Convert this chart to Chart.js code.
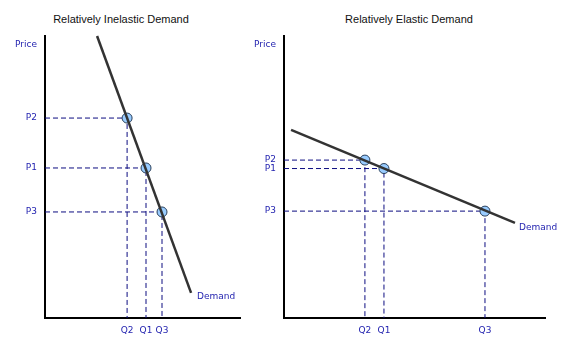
<!DOCTYPE html>
<html>
<head>
<meta charset="utf-8">
<script src="https://cdn.jsdelivr.net/npm/chart.js@4.4.1/dist/chart.umd.min.js"></script>
<style>
  body { margin: 0; background: #fff; }
  #wrap { position: relative; width: 588px; height: 350px; overflow: hidden; }
  canvas { position: absolute; top: 0; }
  .title { position: absolute; top: 12px; font: 11px "Liberation Sans", Arial, sans-serif; color: #111;
           width: 240px; text-align: center; line-height: 14px; }
</style>
</head>
<body>
<div id="wrap">
  <div class="title" style="left:1px">Relatively Inelastic Demand</div>
  <div class="title" style="left:289px">Relatively Elastic Demand</div>
  <canvas id="left" width="250" height="350" style="left:0"></canvas>
  <canvas id="right" width="338" height="350" style="left:250px"></canvas>
</div>
<script>
// inelastic panel (axis units 0..100)
var inQ = [42.1, 51.8, 60.0];        // Q2, Q1, Q3
var inP = [70.9, 53.2, 37.6];        // P2, P1, P3
var inDemand = [[26.7, 100], [74.9, 8.9]];

// elastic panel
var elQ = [31.0, 38.3, 77.0];        // Q2, Q1, Q3
var elP = [56.0, 53.0, 37.9];        // P2, P1, P3
var elDemand = [[2.7, 66.7], [88.5, 33.7]];

var qLabels = ["Q2", "Q1", "Q3"];
var pLabels = ["P2", "P1", "P3"];
var priceTick = 96.8;

var blue = "#2424b0";
var guide = "#0c0c80";
var tickFont = { family: "DejaVu Sans", size: 9 };

var demandLabel = {
  id: "demandLabel",
  afterDatasetsDraw: function(chart, args, opts) {
    var pt = chart.getDatasetMeta(0).data[1];
    var ctx = chart.ctx;
    ctx.save();
    ctx.font = "9px 'DejaVu Sans'";
    ctx.fillStyle = blue;
    ctx.textBaseline = "middle";
    ctx.fillText("Demand", pt.x + opts.dx, pt.y + opts.dy);
    ctx.restore();
  }
};

function makeChart(id, Q, P, demand, yWidth, padRight, dx, dy) {
  var datasets = [];
  datasets.push({
    data: demand.map(function(d) { return { x: d[0], y: d[1] }; }),
    showLine: true, borderColor: "#333", borderWidth: 2.5, pointRadius: 0, clip: false
  });
  datasets.push({
    data: Q.map(function(q, i) { return { x: q, y: P[i] }; }),
    showLine: false, pointRadius: 5, backgroundColor: "#99ccff",
    borderColor: "#2a3f5a", borderWidth: 1, clip: false
  });
  Q.forEach(function(q, i) {
    datasets.push({
      data: [{ x: 0, y: P[i] }, { x: q, y: P[i] }, { x: q, y: 0 }],
      showLine: true, borderColor: guide, borderWidth: 1, borderDash: [5, 3],
      pointRadius: 0, fill: false
    });
  });

  var yTicks = P.concat([priceTick]);
  var yNames = pLabels.concat(["Price"]);

  return new Chart(document.getElementById(id), {
    type: "scatter",
    data: { datasets: datasets },
    plugins: [demandLabel],
    options: {
      responsive: false,
      animation: false,
      devicePixelRatio: 1,
      layout: { padding: { top: 36, right: padRight, left: 0, bottom: 0 } },
      plugins: {
        legend: { display: false },
        tooltip: { enabled: false },
        demandLabel: { dx: dx, dy: dy }
      },
      scales: {
        x: {
          type: "linear", min: 0, max: 100,
          grid: { display: false, drawTicks: false },
          border: { display: true, color: "#000", width: 2 },
          afterBuildTicks: function(s) { s.ticks = Q.map(function(v) { return { value: v }; }); },
          afterFit: function(s) { s.height = 32; },
          ticks: {
            autoSkip: false, maxRotation: 0, padding: 7, color: blue, font: tickFont,
            callback: function(v) { return qLabels[Q.indexOf(v)]; }
          }
        },
        y: {
          type: "linear", min: 0, max: 100,
          grid: { display: false, drawTicks: false },
          border: { display: true, color: "#000", width: 2 },
          afterBuildTicks: function(s) { s.ticks = yTicks.map(function(v) { return { value: v }; }); },
          afterFit: function(s) { s.width = yWidth; },
          ticks: {
            autoSkip: false, padding: 8, color: blue, font: tickFont,
            callback: function(v) { return yNames[yTicks.indexOf(v)]; }
          }
        }
      }
    }
  });
}

makeChart("left", inQ, inP, inDemand, 45, 10, 6, 4);
makeChart("right", elQ, elP, elDemand, 34, 43, 4, 5);
</script>
</body>
</html>
